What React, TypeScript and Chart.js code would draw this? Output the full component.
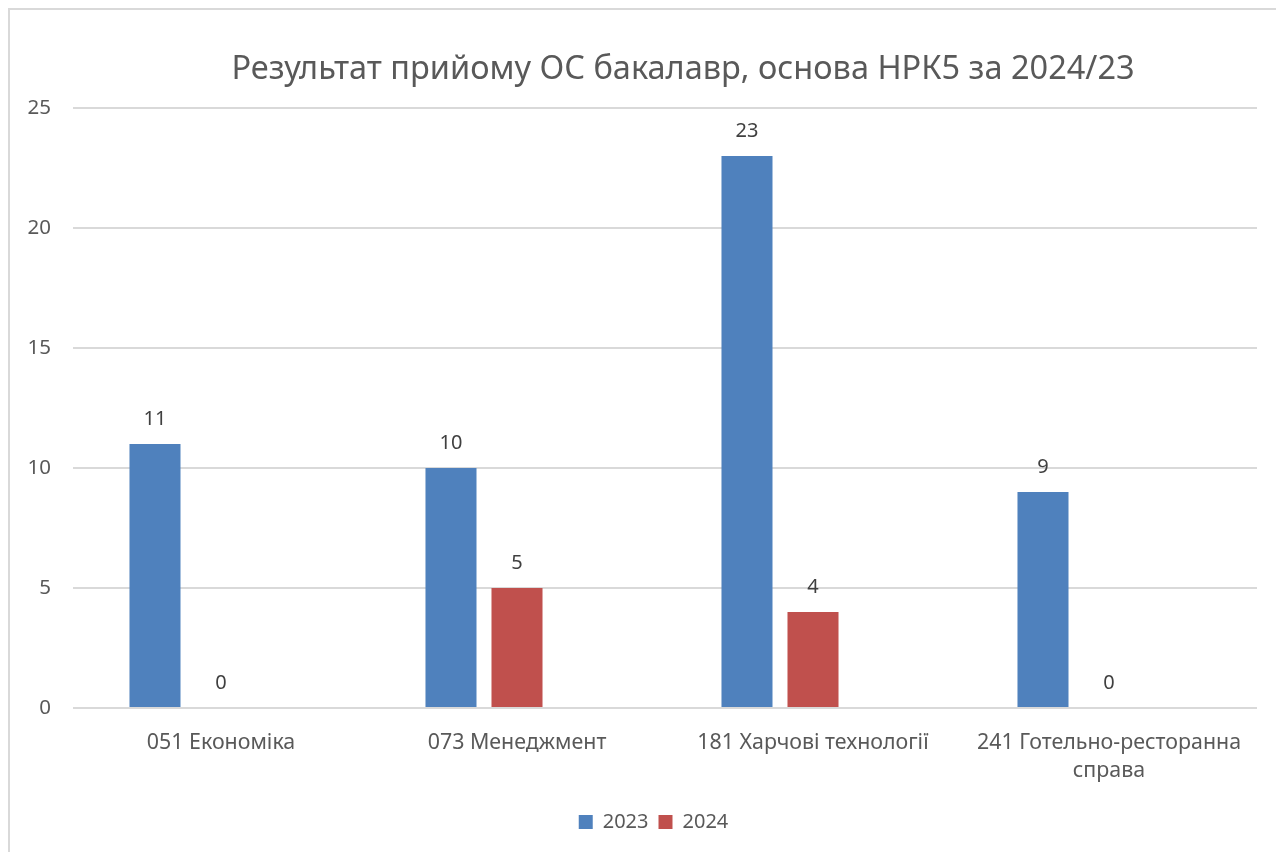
import React, { useEffect, useRef } from "react";
import { Chart, registerables } from "chart.js";

Chart.register(...registerables);

const TITLE = "Результат прийому ОС бакалавр, основа НРК5 за 2024/23";
const categories: (string | string[])[] = [
  "051 Економіка",
  "073 Менеджмент",
  "181 Харчові технології",
  ["241 Готельно-ресторанна", "справа"],
];
const series2023 = [11, 10, 23, 9];
const series2024 = [0, 5, 4, 0];
const seriesEmpty: (number | null)[] = [null, null, null, null];
const yTicks = [0, 5, 10, 15, 20, 25];

const FONT = "'Noto Sans', 'Open Sans', sans-serif";
const TEXT = "#595959";

const dataLabels = {
  id: "dataLabels",
  afterDatasetsDraw(chart: any) {
    const ctx = chart.ctx;
    ctx.save();
    ctx.font = `20px ${FONT}`;
    ctx.fillStyle = "#404040";
    ctx.textAlign = "center";
    ctx.textBaseline = "middle";
    [0, 1].forEach((di) => {
      const meta = chart.getDatasetMeta(di);
      const ds = chart.data.datasets[di];
      meta.data.forEach((el: any, i: number) => {
        const v = ds.data[i];
        if (v === null || v === undefined) return;
        ctx.fillText(String(v), el.x, el.y - 25);
      });
    });
    ctx.restore();
  },
};

const chartTitle = {
  id: "chartTitle",
  afterDraw(chart: any) {
    const ctx = chart.ctx;
    ctx.save();
    ctx.font = `32.5px ${FONT}`;
    ctx.fillStyle = TEXT;
    ctx.textAlign = "center";
    ctx.textBaseline = "middle";
    ctx.fillText(TITLE, 673, 60);
    ctx.restore();
  },
};

const legendShift = {
  id: "legendShift",
  afterLayout(chart: any) {
    const lg = chart.legend;
    if (lg) {
      lg.left += 20;
      lg.right += 20;
    }
  },
};

export default function App() {
  const ref = useRef<HTMLCanvasElement>(null);
  useEffect(() => {
    if (!ref.current) return;
    const chart = new Chart(ref.current, {
      type: "bar",
      data: {
        labels: categories,
        datasets: [
          { label: "2023", data: series2023, backgroundColor: "#4F81BD" },
          { label: "2024", data: series2024, backgroundColor: "#C0504D" },
          { label: "", data: seriesEmpty, backgroundColor: "#9BBB59" },
        ],
      },
      options: {
        responsive: false,
        animation: false,
        datasets: {
          bar: { categoryPercentage: 0.669, barPercentage: 0.773 },
        },
        layout: { padding: { left: 0, right: 27, top: 98, bottom: 10 } },
        plugins: {
          title: { display: false },
          legend: {
            position: "bottom",
            labels: {
              color: TEXT,
              font: { family: FONT, size: 20 },
              boxWidth: 14,
              boxHeight: 14,
              padding: 10,
              filter: (item: any) => item.text !== "",
            },
          },
          tooltip: { enabled: false },
        },
        scales: {
          x: {
            grid: { display: false },
            border: { display: false },
            ticks: {
              color: TEXT,
              font: { family: FONT, size: 21.4, lineHeight: 1.3 },
              padding: 13,
              maxRotation: 0,
              autoSkip: false,
            },
            afterFit: (scale: any) => {
              scale.height = 94;
            },
          },
          y: {
            min: 0,
            max: 25,
            afterBuildTicks: (scale: any) => {
              scale.ticks = yTicks.map((v) => ({ value: v }));
            },
            grid: { color: "#d9d9d9", lineWidth: 2, drawTicks: false },
            border: { display: false },
            ticks: {
              color: TEXT,
              font: { family: FONT, size: 20.5 },
              padding: 22,
            },
            afterFit: (scale: any) => {
              scale.width = 63;
            },
          },
        },
      },
      plugins: [dataLabels, chartTitle, legendShift],
    });
    return () => chart.destroy();
  }, []);

  return (
    <div
      style={{
        position: "relative",
        width: 1276,
        height: 844,
        borderTop: "2px solid #d9d9d9",
        borderLeft: "2px solid #d9d9d9",
        boxSizing: "border-box",
        overflow: "hidden",
        background: "#fff",
      }}
    >
      <canvas ref={ref} width={1274} height={842} style={{ display: "block" }} />
    </div>
  );
}
